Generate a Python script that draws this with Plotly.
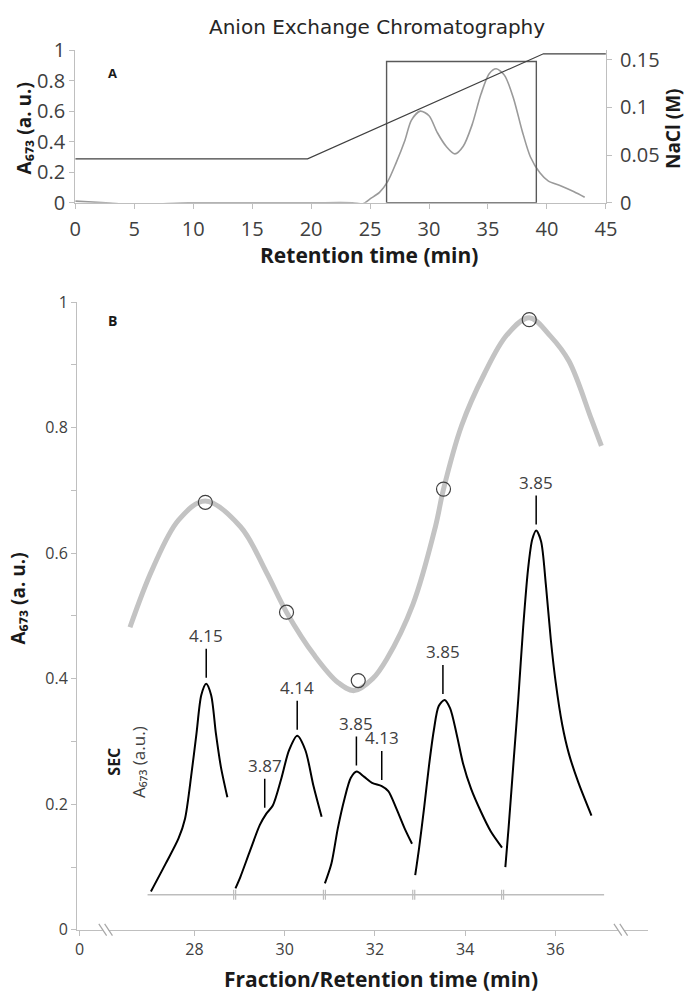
import plotly.graph_objects as go

W, H = 693, 1007

# ---------------- Panel A data ----------------
a_time = [0, 2.6, 5, 7, 9.6, 15, 20, 23.5, 24.4, 25.0, 25.8, 26.5, 27.2, 27.96, 28.5, 29.25,
          30.0, 30.7, 31.45, 32.2, 32.9, 33.65, 34.4, 35.1, 35.7, 36.4, 37.16, 37.9, 38.6,
          39.4, 40.1, 41.2, 42.3, 43.2]
a_abs = [0.011, 0.0, -0.013, -0.008, 0.0, 0.0, 0.0, 0.0, -0.006, 0.026, 0.068, 0.14, 0.26, 0.41,
         0.54, 0.60, 0.57, 0.46, 0.37, 0.32, 0.37, 0.51, 0.71, 0.845, 0.877, 0.834, 0.685,
         0.47, 0.30, 0.196, 0.143, 0.11, 0.072, 0.036]
nacl_time = [0, 19.7, 39.7, 45]
nacl_conc = [0.046, 0.046, 0.156, 0.156]
box_time = [26.4, 39.1]
box_abs = [0.0, 0.925]

a_xticks = [0, 5, 10, 15, 20, 25, 30, 35, 40, 45]
a_yticks = [0, 0.2, 0.4, 0.6, 0.8, 1]
a_yticktext = ["0", "0.2", "0.4", "0.6", "0.8", "1"]
nacl_ticks = [0, 0.05, 0.1, 0.15]
nacl_ticktext = ["0", "0.05", "0.1", "0.15"]

# ---------------- Panel B data ----------------
fit_time = [26.57, 27.07, 27.65, 28.24, 29.02, 29.59, 30.04, 30.67, 31.18, 31.54, 31.95, 32.26,
            32.84, 33.34, 33.52, 33.92, 34.42, 34.93, 35.42, 35.9, 36.3, 36.8, 37.02]
fit_abs = [0.482, 0.575, 0.653, 0.683, 0.642, 0.570, 0.506, 0.436, 0.394, 0.381, 0.400, 0.431,
           0.518, 0.642, 0.702, 0.803, 0.885, 0.948, 0.975, 0.945, 0.906, 0.813, 0.771]

frac_time = [28.24, 30.04, 31.63, 33.52, 35.42]
frac_abs = [0.681, 0.506, 0.397, 0.702, 0.972]

sec1_time = [27.034, 27.358, 27.648, 27.79, 27.935, 28.043, 28.151, 28.259, 28.368, 28.476, 28.584, 28.729]
sec1_abs = [0.061, 0.105, 0.146, 0.177, 0.250, 0.312, 0.374, 0.392, 0.374, 0.312, 0.260, 0.211]

sec2_time = [28.908, 29.016, 29.232, 29.449, 29.593, 29.736, 29.917, 30.097, 30.277, 30.458, 30.638, 30.818]
sec2_abs = [0.066, 0.084, 0.126, 0.167, 0.185, 0.198, 0.239, 0.286, 0.309, 0.286, 0.229, 0.180]

sec3_time = [30.891, 31.034, 31.178, 31.323, 31.466, 31.596, 31.756, 31.935, 32.151, 32.296, 32.476, 32.655, 32.822]
sec3_abs = [0.074, 0.105, 0.162, 0.208, 0.242, 0.252, 0.244, 0.234, 0.229, 0.221, 0.193, 0.162, 0.137]

sec4_time = [32.893, 32.98, 33.088, 33.196, 33.304, 33.412, 33.542, 33.665, 33.81, 33.953, 34.134, 34.35, 34.566, 34.817]
sec4_abs = [0.087, 0.131, 0.193, 0.260, 0.317, 0.356, 0.366, 0.353, 0.312, 0.265, 0.224, 0.188, 0.157, 0.131]

sec5_time = [34.891, 34.962, 35.07, 35.178, 35.286, 35.395, 35.488, 35.575, 35.682, 35.79, 35.899,
             36.007, 36.151, 36.297, 36.513, 36.8]
sec5_abs = [0.0997, 0.162, 0.265, 0.368, 0.482, 0.575, 0.622, 0.636, 0.619, 0.549, 0.462,
            0.394, 0.327, 0.281, 0.234, 0.182]

sec_baseline_time = [26.96, 37.08]
sec_baseline_abs = [0.0558, 0.0558]
fraction_bounds = [28.89, 30.88, 32.86, 34.83]

peak_text = ["4.15", "3.87", "4.14", "3.85", "4.13", "3.85", "3.85"]
peak_time = [28.26, 29.557, 30.277, 31.589, 32.151, 33.507, 35.574]
peak_abs = [0.392, 0.185, 0.309, 0.252, 0.229, 0.366, 0.636]

b_xticks = [25.45, 28, 30, 32, 34, 36]
b_xticktext = ["0", "28", "30", "32", "34", "36"]
b_yticks = [0, 0.2, 0.4, 0.6, 0.8, 1.0]
b_yticktext = ["0", "0.2", "0.4", "0.6", "0.8", "1"]
b_xrange = [25.4, 38.05]
axis_breaks = [26.03, 37.45]

# ---------------- layout geometry (pixels) ----------------
A_L, A_R, A_T, A_B = 71, 615, 37, 194
B_L, B_R, B_T, B_B = 73, 658, 296, 941

AXC = "#bfbfbf"
TXT = "#404040"
NUMF = "Open Sans"
TITF = "Open Sans"

fig = go.Figure()

# Panel A
fig.add_trace(go.Scatter(x=a_time, y=a_abs, mode="lines", line=dict(color="#9a9a9a", width=1.6, shape="spline", smoothing=0.8),
                         xaxis="x", yaxis="y", hoverinfo="skip"))
fig.add_trace(go.Scatter(x=nacl_time, y=nacl_conc, mode="lines", line=dict(color="#404040", width=1.1),
                         xaxis="x", yaxis="y3", hoverinfo="skip"))
fig.add_trace(go.Scatter(x=[box_time[0], box_time[0], box_time[1], box_time[1], box_time[0]],
                         y=[box_abs[0], box_abs[1], box_abs[1], box_abs[0], box_abs[0]],
                         mode="lines", line=dict(color="#595959", width=1.4), xaxis="x", yaxis="y", hoverinfo="skip"))

# Panel B
fig.add_trace(go.Scatter(x=sec_baseline_time, y=sec_baseline_abs, mode="lines", line=dict(color="#bdbdbd", width=1.3),
                         xaxis="x2", yaxis="y2", hoverinfo="skip"))
fig.add_trace(go.Scatter(x=fit_time, y=fit_abs, mode="lines", line=dict(color="#c3c3c3", width=5, shape="spline", smoothing=1.0),
                         xaxis="x2", yaxis="y2", hoverinfo="skip"))
for tt, vv in [(sec1_time, sec1_abs), (sec2_time, sec2_abs), (sec3_time, sec3_abs), (sec4_time, sec4_abs), (sec5_time, sec5_abs)]:
    fig.add_trace(go.Scatter(x=tt, y=vv, mode="lines", line=dict(color="black", width=2, shape="spline", smoothing=0.8),
                             xaxis="x2", yaxis="y2", hoverinfo="skip"))
fig.add_trace(go.Scatter(x=frac_time, y=frac_abs, mode="markers",
                         marker=dict(symbol="circle-open", size=14, color="#404040", line=dict(width=1.2)),
                         xaxis="x2", yaxis="y2", hoverinfo="skip"))

shapes = []
for fb in fraction_bounds:
    for d in (-0.022, 0.022):
        shapes.append(dict(type="line", xref="x2", yref="y2", x0=fb + d, x1=fb + d,
                           y0=sec_baseline_abs[0] - 0.008, y1=sec_baseline_abs[0] + 0.008,
                           line=dict(color="#bdbdbd", width=1.2)))

# axis break marks (panel B x axis)
def bx_paper(t):
    px = B_L + (t - b_xrange[0]) / (b_xrange[1] - b_xrange[0]) * (B_R - B_L)
    return px / W

yb = 1 - B_B / H
for t in axis_breaks:
    xc = bx_paper(t)
    shapes.append(dict(type="rect", xref="paper", yref="paper", x0=xc - 3 / W, x1=xc + 3 / W,
                       y0=yb - 2 / H, y1=yb + 2 / H, fillcolor="white", line=dict(width=0)))
    for off in (-3, 3):
        shapes.append(dict(type="line", xref="paper", yref="paper",
                           x0=xc + (off - 4) / W, x1=xc + (off + 4) / W,
                           y0=yb + 6 / H, y1=yb - 6 / H, line=dict(color="#a6a6a6", width=1.2)))

annotations = []
for txt, t, v in zip(peak_text, peak_time, peak_abs):
    annotations.append(dict(x=t, y=v, xref="x2", yref="y2", text=txt, showarrow=True,
                            arrowhead=0, arrowwidth=1.5, arrowcolor="black", ax=0, ay=-35,
                            standoff=6, yanchor="bottom", font=dict(family=NUMF, size=17, color=TXT)))

def ann(x, y, text, size, bold=False, angle=0, color="#1a1a1a", family=TITF):
    annotations.append(dict(x=x / W, y=1 - y / H, xref="paper", yref="paper", text=text, showarrow=False,
                            textangle=angle, xanchor="center", yanchor="middle",
                            font=dict(family=family, size=size, color=color, weight="bold" if bold else "normal")))

ann(380, 13, "Anion Exchange Chromatography", 20, family="DejaVu Sans", color="#262626")
ann(109, 61, "A", 13, bold=True)
ann(18, 118, "A₆₇₃ (a. u.)", 19, bold=True, angle=-90)
ann(684, 118, "NaCl (M)", 19, bold=True, angle=-90)
ann(372, 248, "Retention time (min)", 21, bold=True)
ann(109, 315, "B", 14, bold=True)
ann(12, 601, "A₆₇₃ (a. u.)", 19, bold=True, angle=-90)
ann(384, 992, "Fraction/Retention time (min)", 21, bold=True)
ann(111, 768, "SEC", 16, bold=True, angle=-90)
ann(136, 769, "A₆₇₃ (a.u.)", 17, angle=-90, color=TXT)

common = dict(showgrid=False, zeroline=False, showline=True, linecolor=AXC, linewidth=1.3,
              ticks="outside", ticklen=5, tickcolor=AXC, tickwidth=1.3)

fig.update_layout(
    width=W, height=H, margin=dict(l=0, r=0, t=0, b=0),
    paper_bgcolor="white", plot_bgcolor="white", showlegend=False,
    xaxis=dict(domain=[A_L / W, A_R / W], anchor="y", range=[0, 45], tickvals=a_xticks,
               tickfont=dict(family=NUMF, size=20, color=TXT), ticklabelstandoff=3, **common),
    yaxis=dict(domain=[1 - A_B / H, 1 - A_T / H], anchor="x", range=[0, 1], tickvals=a_yticks,
               ticktext=a_yticktext, tickfont=dict(family=NUMF, size=20, color=TXT), **common),
    yaxis3=dict(overlaying="y", side="right", anchor="x", range=[0, 0.16], tickvals=nacl_ticks,
                ticktext=nacl_ticktext, tickfont=dict(family=NUMF, size=20, color=TXT),
                ticklabelstandoff=4, **common),
    xaxis2=dict(domain=[B_L / W, B_R / W], anchor="y2", range=b_xrange, tickvals=b_xticks,
                ticktext=b_xticktext, tickfont=dict(family=NUMF, size=16, color=TXT), **common),
    yaxis2=dict(domain=[1 - B_B / H, 1 - B_T / H], anchor="x2", range=[0, 1], tickvals=b_yticks,
                ticktext=b_yticktext, tickfont=dict(family=NUMF, size=16, color=TXT),
                minor=dict(dtick=0.1, ticks="outside", ticklen=5, tickcolor=AXC, tickwidth=1.3, showgrid=False),
                **common),
    shapes=shapes, annotations=annotations,
)

fig.write_html("out.html", config={"displayModeBar": False},
               post_script="document.body.style.margin='0px';document.body.style.overflow='hidden';")
